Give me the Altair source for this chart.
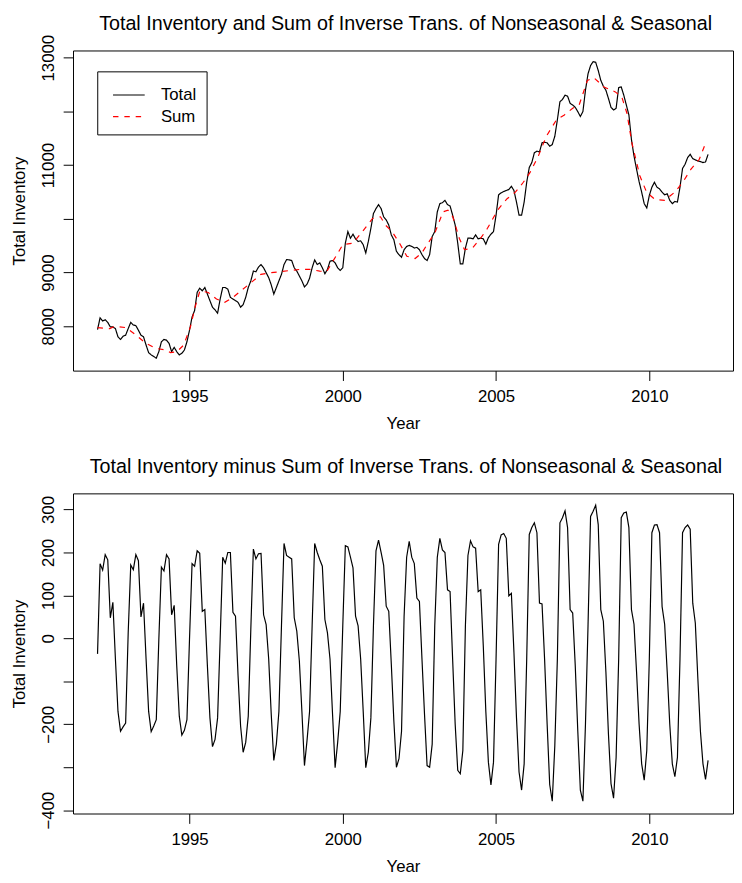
import altair as alt
import pandas as pd

FONT = "Liberation Sans"

# ---- data (monthly, Jan 1992 .. Dec 2011) ----
start_year = 1992
total = [
    7939, 8159, 8098, 8122, 8073, 7988, 7988, 7957, 7804, 7755, 7816, 7835,
    7957, 8073, 8024, 8012, 7927, 7835, 7804, 7651, 7510, 7468, 7437, 7407,
    7529, 7712, 7755, 7743, 7682, 7529, 7608, 7529, 7468, 7498, 7559, 7712,
    7927, 8171, 8294, 8630, 8710, 8661, 8722, 8600, 8477, 8355, 8306, 8245,
    8508, 8722, 8722, 8692, 8539, 8508, 8477, 8447, 8355, 8404, 8539, 8722,
    8845, 9028, 9016, 9102, 9150, 9089, 8998, 8906, 8771, 8600, 8722, 8845,
    8967, 9150, 9242, 9236, 9224, 9089, 9028, 8936, 8845, 8734, 8783, 8894,
    9089, 9236, 9150, 9181, 9089, 8979, 9059, 9212, 9224, 9181, 9089, 9040,
    9089, 9548, 9763, 9640, 9714, 9628, 9579, 9591, 9518, 9365, 9579, 9824,
    10099, 10191, 10264, 10191, 10038, 9980, 9885, 9701, 9610, 9395, 9334, 9285,
    9426, 9487, 9506, 9487, 9457, 9469, 9426, 9334, 9261, 9224, 9334, 9671,
    9763, 10130, 10283, 10301, 10344, 10264, 10240, 10069, 9885, 9548, 9163, 9163,
    9457, 9640, 9640, 9628, 9701, 9628, 9640, 9628, 9530, 9652, 9714, 9763,
    10069, 10448, 10485, 10509, 10528, 10546, 10607, 10528, 10313, 10069, 10069, 10313,
    10681, 10956, 11048, 11231, 11262, 11244, 11415, 11427, 11415, 11354, 11384, 11537,
    11843, 12180, 12223, 12302, 12284, 12150, 12119, 12076, 11996, 11905, 11996, 12394,
    12700, 12853, 12927, 12914, 12761, 12578, 12468, 12394, 12241, 12076, 12027, 12058,
    12443, 12456, 12302, 12119, 11935, 11476, 11170, 10925, 10693, 10497, 10283, 10203,
    10436, 10589, 10681, 10589, 10558, 10497, 10448, 10467, 10344, 10283, 10325, 10313,
    10589, 10938, 11017, 11140, 11201, 11121, 11097, 11078, 11066, 11048, 11060, 11200,
]

residual = [
    -36, 174, 159, 195, 183, 48, 84, -48, -170, -216, -206, -197,
    13, 171, 160, 195, 181, 50, 82, -48, -170, -217, -204, -189,
    -2, 166, 157, 195, 185, 55, 77, -63, -181, -225, -214, -189,
    -2, 174, 168, 204, 198, 63, 67, -63, -185, -252, -235, -185,
    -2, 189, 175, 200, 200, 61, 52, -86, -204, -265, -242, -181,
    21, 208, 185, 197, 198, 55, 32, -48, -177, -284, -246, -170,
    29, 221, 193, 189, 185, 48, 17, -52, -170, -296, -238, -170,
    29, 221, 200, 183, 168, 44, 13, -48, -177, -301, -242, -170,
    29, 216, 213, 189, 164, 52, 29, -48, -170, -301, -265, -185,
    29, 204, 229, 200, 170, 75, 63, -60, -193, -300, -280, -216,
    51, 189, 226, 189, 174, 94, 86, -48, -177, -296, -300, -246,
    29, 189, 233, 206, 200, 113, 109, -48, -200, -307, -315, -261,
    29, 193, 227, 213, 210, 109, 113, -17, -170, -288, -341, -288,
    -48, 219, 241, 244, 233, 99, 105, -32, -185, -311, -353, -292,
    -48, 242, 258, 269, 246, 82, 80, -48, -200, -340, -379, -250,
    -48, 269, 281, 297, 258, 67, 59, -63, -216, -353, -379, -200,
    29, 284, 296, 310, 265, 67, 40, -78, -223, -338, -372, -277,
    -48, 281, 292, 294, 258, 67, 33, -78, -200, -292, -330, -261,
    -48, 246, 264, 265, 246, 74, 33, -78, -200, -292, -322, -277,
    -48, 246, 258, 264, 254, 82, 36, -94, -216, -292, -328, -284,
]

sum_year = [
    1992.0, 1992.4, 1992.56, 1992.93, 1993.26, 1993.58, 1993.9, 1994.22, 1994.38,
    1994.59, 1994.81, 1995.03, 1995.18, 1995.34, 1995.61, 1995.88, 1996.15, 1996.42,
    1996.68, 1997.01, 1997.33, 1997.65, 1997.97, 1998.29, 1998.61, 1998.93, 1999.25,
    1999.47, 1999.68, 2000.0, 2000.33, 2000.64, 2000.97, 2001.23, 2001.39, 2001.61,
    2001.88, 2002.09, 2002.36, 2002.58, 2002.78, 2003.0, 2003.27, 2003.43, 2003.59,
    2003.8, 2003.97, 2004.23, 2004.5, 2004.72, 2004.93, 2005.09, 2005.36, 2005.63,
    2005.89, 2006.11, 2006.38, 2006.64, 2006.97, 2007.23, 2007.5, 2007.71, 2007.98,
    2008.19, 2008.52, 2008.89, 2009.1, 2009.27, 2009.43, 2009.69, 2009.91, 2010.18,
    2010.5, 2010.83, 2011.09, 2011.36, 2011.63, 2011.84,
]
sum_value = [
    7975, 7957, 8000, 7975, 7835, 7682, 7590, 7560, 7510,
    7529, 7651, 7988, 8355, 8661, 8630, 8508, 8447, 8539,
    8661, 8814, 8967, 8998, 9016, 9040, 9059, 9059, 9028,
    9016, 9212, 9518, 9548, 9763, 10007, 10038, 9885, 9763,
    9518, 9304, 9261, 9365, 9548, 9732, 10130, 10160, 10038,
    9640, 9426, 9457, 9640, 9824, 10038, 10191, 10375, 10497,
    10681, 10864, 11170, 11537, 11843, 11935, 12058, 12119, 12578,
    12627, 12455, 12363, 12272, 11966, 11415, 10803, 10497, 10362,
    10344, 10497, 10681, 10925, 11109, 11415,
]

series_names = ["Total", "Sum"]
top_ticks = [8000, 9000, 10000, 11000, 12000, 13000]
bottom_ticks = [-400, -300, -200, -100, 0, 100, 200, 300]
year_ticks = [1995, 2000, 2005, 2010]

months = [start_year + i / 12 for i in range(len(total))]
df_total = pd.DataFrame({"year": months, "value": total, "series": "Total"})
df_sum = pd.DataFrame({"year": sum_year, "value": sum_value, "series": "Sum"})
df_res = pd.DataFrame({"year": months[: len(residual)], "value": residual})

W, H = 670, 325
xscale = alt.Scale(domain=[1991.2, 2012.73], nice=False, zero=False)
xaxis = alt.Axis(values=year_ticks, format="d", title="Year", labelOverlap=False)

color_scale = alt.Scale(domain=series_names, range=["black", "red"])
dash_scale = alt.Scale(domain=series_names, range=[[1, 0], [5.5, 6]])

def top_layer(df):
    return alt.Chart(df).mark_line(strokeWidth=1.2).encode(
        x=alt.X("year:Q", scale=xscale, axis=xaxis),
        y=alt.Y(
            "value:Q",
            scale=alt.Scale(domain=[7175, 13134], nice=False, zero=False),
            axis=alt.Axis(
                values=top_ticks, format="d", title="Total Inventory",
                labelExpr="datum.value == 10000 || datum.value == 12000 ? '' : datum.label",
                labelOverlap=False,
            ),
        ),
        color=alt.Color("series:N", scale=color_scale, legend=alt.Legend(title=None)),
        strokeDash=alt.StrokeDash("series:N", scale=dash_scale, legend=alt.Legend(title=None)),
    )

top = alt.layer(top_layer(df_total), top_layer(df_sum)).properties(
    width=W, height=H,
    title=alt.Title(
        "Total Inventory and Sum of Inverse Trans. of Nonseasonal & Seasonal",
        offset=0.4, dx=2.6,
    ),
)

bottom = alt.Chart(df_res).mark_line(strokeWidth=1.2, color="black").encode(
    x=alt.X("year:Q", scale=xscale, axis=xaxis),
    y=alt.Y(
        "value:Q",
        scale=alt.Scale(domain=[-407.6, 337.6], nice=False, zero=False),
        axis=alt.Axis(
            values=bottom_ticks, format="d", title="Total Inventory",
            labelExpr="datum.value == -100 || datum.value == -300 ? '' : datum.label",
            labelOverlap=False,
        ),
    ),
).properties(
    width=W, height=H,
    title=alt.Title(
        "Total Inventory minus Sum of Inverse Trans. of Nonseasonal & Seasonal",
        offset=16.7, dx=3,
    ),
)

chart = alt.vconcat(top, bottom, spacing=124.6, bounds="flush").properties(
    padding={"left": 2, "top": -1.5, "right": 0, "bottom": 0},
    background="white",
).configure_view(
    stroke="black", strokeWidth=1,
).configure_axis(
    domain=False, grid=False,
    tickColor="black", tickSize=10, tickWidth=1,
    labelFont=FONT, labelFontSize=17, labelColor="black",
    titleFont=FONT, titleFontSize=17, titleFontWeight="normal", titleColor="black",
).configure_axisX(
    labelPadding=8.5, labelBaseline="top",
    titleBaseline="alphabetic", titleY=59,
).configure_axisY(
    labelAngle=270, labelAlign="center", labelBaseline="alphabetic", labelPadding=9.4,
    titleAngle=270, titleAlign="center", titleBaseline="alphabetic", titleX=-49.2,
).configure_title(
    font=FONT, fontSize=20, fontWeight="normal", color="black",
    anchor="middle", baseline="alphabetic",
).configure_legend(
    orient="none", legendX=24.6, legendY=21.2,
    strokeColor="black", fillColor="white", padding=10, cornerRadius=0,
    symbolType="M-1.2,0H1.2", symbolSize=718, symbolStrokeWidth=1.2,
    labelFont=FONT, labelFontSize=17, labelColor="black",
    labelOffset=18.5, rowPadding=0, symbolOffset=8.1,
)

chart.save("out.html", embed_options={"renderer": "svg", "actions": False})
